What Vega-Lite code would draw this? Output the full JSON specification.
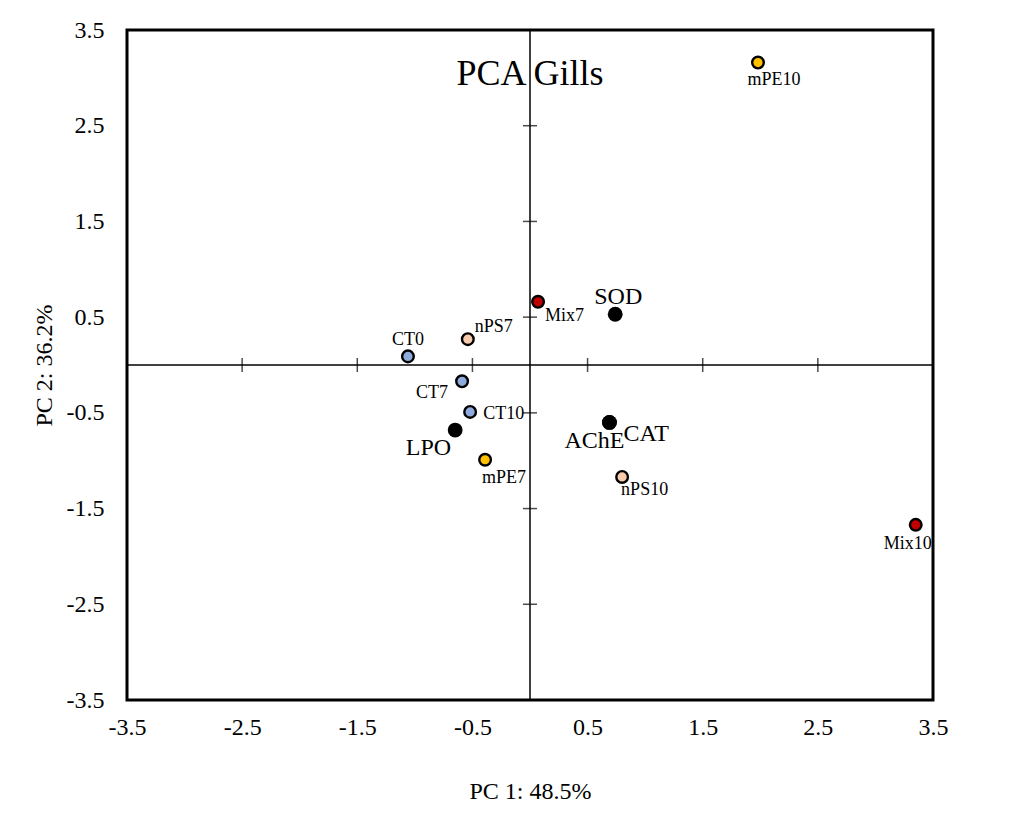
{
  "$schema": "https://vega.github.io/schema/vega-lite/v6.json",
  "width": 806,
  "height": 670,
  "autosize": {"type": "none"},
  "padding": {"left": 127, "top": 30, "right": 99, "bottom": 139},
  "background": "white",
  "config": {
    "view": {"stroke": "black", "strokeWidth": 3},
    "font": "Liberation Serif",
    "axis": {"grid": false, "domain": false, "ticks": false, "labelFont": "Liberation Serif", "titleFont": "Liberation Serif", "labelColor": "black", "titleColor": "black", "labelFontSize": 24, "titleFontSize": 24, "titleFontWeight": "normal", "labelFlush": false, "labelOverlap": false}
  },
  "datasets": {
    "pts": [
      {"name": "CT0", "group": "CT", "pc1": -1.06, "pc2": 0.09},
      {"name": "CT7", "group": "CT", "pc1": -0.59, "pc2": -0.17},
      {"name": "CT10", "group": "CT", "pc1": -0.52, "pc2": -0.49},
      {"name": "nPS7", "group": "nPS", "pc1": -0.54, "pc2": 0.27},
      {"name": "nPS10", "group": "nPS", "pc1": 0.80, "pc2": -1.17},
      {"name": "mPE7", "group": "mPE", "pc1": -0.39, "pc2": -0.99},
      {"name": "mPE10", "group": "mPE", "pc1": 1.98, "pc2": 3.16},
      {"name": "Mix7", "group": "Mix", "pc1": 0.07, "pc2": 0.66},
      {"name": "Mix10", "group": "Mix", "pc1": 3.35, "pc2": -1.67}
    ],
    "vars": [
      {"name": "SOD", "pc1": 0.74, "pc2": 0.53},
      {"name": "LPO", "pc1": -0.65, "pc2": -0.68},
      {"name": "AChE", "pc1": 0.69, "pc2": -0.60},
      {"name": "CAT", "pc1": 0.69, "pc2": -0.60}
    ],
    "ticks": [
      {"v": -3.5}, {"v": -2.5}, {"v": -1.5}, {"v": -0.5}, {"v": 0.5}, {"v": 1.5}, {"v": 2.5}, {"v": 3.5}
    ],
    "one": [{"t": "PCA Gills"}]
  },
  "encoding": {
    "x": {"type": "quantitative", "scale": {"domain": [-3.5, 3.5], "nice": false, "zero": false}},
    "y": {"type": "quantitative", "scale": {"domain": [-3.5, 3.5], "nice": false, "zero": false}}
  },
  "layer": [
    {
      "data": {"name": "ticks"},
      "mark": {"type": "point", "opacity": 0},
      "encoding": {
        "x": {"field": "v", "type": "quantitative", "scale": {"domain": [-3.5, 3.5], "nice": false, "zero": false},
              "axis": {"values": [-3.5, -2.5, -1.5, -0.5, 0.5, 1.5, 2.5, 3.5], "labelExpr": "'' + datum.value", "labelPadding": 15, "title": "PC 1: 48.5%", "titlePadding": 40}},
        "y": {"field": "v", "type": "quantitative", "scale": {"domain": [-3.5, 3.5], "nice": false, "zero": false},
              "axis": {"values": [-3.5, -2.5, -1.5, -0.5, 0.5, 1.5, 2.5, 3.5], "labelExpr": "'' + datum.value", "labelPadding": 23, "title": "PC 2: 36.2%", "titlePadding": 10}}
      }
    },
    {
      "data": {"name": "one"},
      "mark": {"type": "rule", "color": "black", "strokeWidth": 1.5},
      "encoding": {"y": {"datum": 0}}
    },
    {
      "data": {"name": "one"},
      "mark": {"type": "rule", "color": "black", "strokeWidth": 1.5},
      "encoding": {"x": {"datum": 0}}
    },
    {
      "data": {"name": "ticks"},
      "mark": {"type": "tick", "orient": "vertical", "color": "black", "size": 14, "thickness": 1.5},
      "encoding": {"x": {"field": "v", "type": "quantitative"}, "y": {"datum": 0}}
    },
    {
      "data": {"name": "ticks"},
      "mark": {"type": "tick", "orient": "horizontal", "color": "black", "size": 14, "thickness": 1.5},
      "encoding": {"y": {"field": "v", "type": "quantitative"}, "x": {"datum": 0}}
    },
    {
      "data": {"name": "pts"},
      "mark": {"type": "point", "shape": "circle", "filled": true, "size": 135, "stroke": "black", "strokeWidth": 2.4, "opacity": 1},
      "encoding": {
        "x": {"field": "pc1", "type": "quantitative"},
        "y": {"field": "pc2", "type": "quantitative"},
        "fill": {"field": "group", "type": "nominal", "scale": {"domain": ["CT", "nPS", "mPE", "Mix"], "range": ["#8FAADC", "#F8CBAD", "#FFC000", "#C00000"]}, "legend": null}
      }
    },
    {
      "data": {"name": "vars"},
      "mark": {"type": "point", "shape": "circle", "filled": true, "size": 220, "color": "black", "opacity": 1},
      "encoding": {
        "x": {"field": "pc1", "type": "quantitative"},
        "y": {"field": "pc2", "type": "quantitative"}
      }
    },
    {"data": {"name": "pts"}, "transform": [{"filter": {"field": "name", "equal": "CT0"}}],
     "mark": {"type": "text", "font": "Liberation Serif", "fontSize": 18, "align": "center", "dx": 0, "dy": -11, "baseline": "alphabetic", "color": "black"},
     "encoding": {"x": {"field": "pc1", "type": "quantitative"}, "y": {"field": "pc2", "type": "quantitative"}, "text": {"field": "name"}}},
    {"data": {"name": "pts"}, "transform": [{"filter": {"field": "name", "equal": "nPS7"}}],
     "mark": {"type": "text", "font": "Liberation Serif", "fontSize": 18, "align": "left", "dx": 7, "dy": -7, "baseline": "alphabetic", "color": "black"},
     "encoding": {"x": {"field": "pc1", "type": "quantitative"}, "y": {"field": "pc2", "type": "quantitative"}, "text": {"field": "name"}}},
    {"data": {"name": "pts"}, "transform": [{"filter": {"field": "name", "equal": "CT7"}}],
     "mark": {"type": "text", "font": "Liberation Serif", "fontSize": 18, "align": "right", "dx": -14, "dy": 17, "baseline": "alphabetic", "color": "black"},
     "encoding": {"x": {"field": "pc1", "type": "quantitative"}, "y": {"field": "pc2", "type": "quantitative"}, "text": {"field": "name"}}},
    {"data": {"name": "pts"}, "transform": [{"filter": {"field": "name", "equal": "CT10"}}],
     "mark": {"type": "text", "font": "Liberation Serif", "fontSize": 18, "align": "left", "dx": 13, "dy": 7, "baseline": "alphabetic", "color": "black"},
     "encoding": {"x": {"field": "pc1", "type": "quantitative"}, "y": {"field": "pc2", "type": "quantitative"}, "text": {"field": "name"}}},
    {"data": {"name": "pts"}, "transform": [{"filter": {"field": "name", "equal": "mPE7"}}],
     "mark": {"type": "text", "font": "Liberation Serif", "fontSize": 18, "align": "left", "dx": -3, "dy": 23, "baseline": "alphabetic", "color": "black"},
     "encoding": {"x": {"field": "pc1", "type": "quantitative"}, "y": {"field": "pc2", "type": "quantitative"}, "text": {"field": "name"}}},
    {"data": {"name": "pts"}, "transform": [{"filter": {"field": "name", "equal": "Mix7"}}],
     "mark": {"type": "text", "font": "Liberation Serif", "fontSize": 18, "align": "left", "dx": 7, "dy": 19, "baseline": "alphabetic", "color": "black"},
     "encoding": {"x": {"field": "pc1", "type": "quantitative"}, "y": {"field": "pc2", "type": "quantitative"}, "text": {"field": "name"}}},
    {"data": {"name": "pts"}, "transform": [{"filter": {"field": "name", "equal": "nPS10"}}],
     "mark": {"type": "text", "font": "Liberation Serif", "fontSize": 18, "align": "left", "dx": -1, "dy": 18, "baseline": "alphabetic", "color": "black"},
     "encoding": {"x": {"field": "pc1", "type": "quantitative"}, "y": {"field": "pc2", "type": "quantitative"}, "text": {"field": "name"}}},
    {"data": {"name": "pts"}, "transform": [{"filter": {"field": "name", "equal": "mPE10"}}],
     "mark": {"type": "text", "font": "Liberation Serif", "fontSize": 18, "align": "center", "dx": 16, "dy": 22, "baseline": "alphabetic", "color": "black"},
     "encoding": {"x": {"field": "pc1", "type": "quantitative"}, "y": {"field": "pc2", "type": "quantitative"}, "text": {"field": "name"}}},
    {"data": {"name": "pts"}, "transform": [{"filter": {"field": "name", "equal": "Mix10"}}],
     "mark": {"type": "text", "font": "Liberation Serif", "fontSize": 18, "align": "center", "dx": -8, "dy": 24, "baseline": "alphabetic", "color": "black"},
     "encoding": {"x": {"field": "pc1", "type": "quantitative"}, "y": {"field": "pc2", "type": "quantitative"}, "text": {"field": "name"}}},
    {"data": {"name": "vars"}, "transform": [{"filter": {"field": "name", "equal": "SOD"}}],
     "mark": {"type": "text", "font": "Liberation Serif", "fontSize": 24, "align": "center", "dx": 3, "dy": -10, "baseline": "alphabetic", "color": "black"},
     "encoding": {"x": {"field": "pc1", "type": "quantitative"}, "y": {"field": "pc2", "type": "quantitative"}, "text": {"field": "name"}}},
    {"data": {"name": "vars"}, "transform": [{"filter": {"field": "name", "equal": "LPO"}}],
     "mark": {"type": "text", "font": "Liberation Serif", "fontSize": 24, "align": "right", "dx": -4, "dy": 25, "baseline": "alphabetic", "color": "black"},
     "encoding": {"x": {"field": "pc1", "type": "quantitative"}, "y": {"field": "pc2", "type": "quantitative"}, "text": {"field": "name"}}},
    {"data": {"name": "vars"}, "transform": [{"filter": {"field": "name", "equal": "AChE"}}],
     "mark": {"type": "text", "font": "Liberation Serif", "fontSize": 24, "align": "right", "dx": 15, "dy": 26, "baseline": "alphabetic", "color": "black"},
     "encoding": {"x": {"field": "pc1", "type": "quantitative"}, "y": {"field": "pc2", "type": "quantitative"}, "text": {"field": "name"}}},
    {"data": {"name": "vars"}, "transform": [{"filter": {"field": "name", "equal": "CAT"}}],
     "mark": {"type": "text", "font": "Liberation Serif", "fontSize": 24, "align": "left", "dx": 14, "dy": 19, "baseline": "alphabetic", "color": "black"},
     "encoding": {"x": {"field": "pc1", "type": "quantitative"}, "y": {"field": "pc2", "type": "quantitative"}, "text": {"field": "name"}}},
    {
      "data": {"name": "one"},
      "mark": {"type": "text", "font": "Liberation Serif", "fontSize": 36, "align": "center", "baseline": "alphabetic", "color": "black"},
      "encoding": {"x": {"datum": 0}, "y": {"datum": 2.93}, "text": {"field": "t"}}
    }
  ]
}
